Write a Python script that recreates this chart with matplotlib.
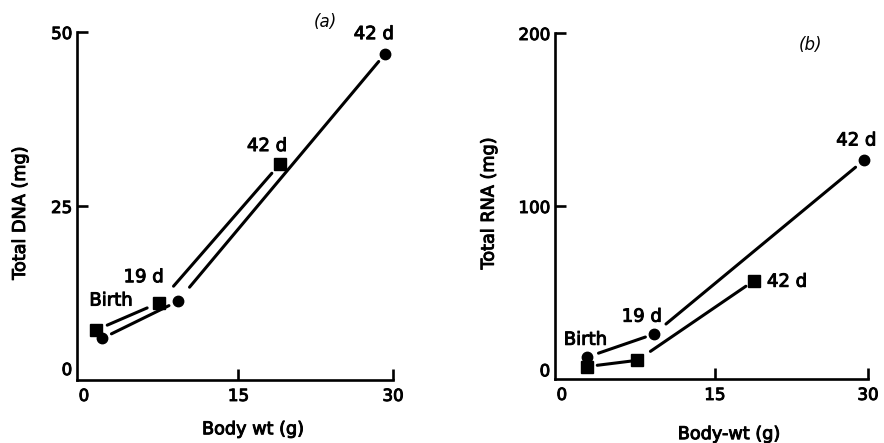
import matplotlib
matplotlib.use("Agg")
import matplotlib.pyplot as plt
import matplotlib.transforms as mtransforms
import matplotlib.patheffects as pe

# panel (a): total DNA vs body weight
dna_sq_x = [1.2, 7.3, 19.0]
dna_sq_y = [7.2, 11.1, 31.0]
dna_ci_x = [1.8, 9.1, 29.2]
dna_ci_y = [6.0, 11.3, 46.8]

# panel (b): total RNA vs body weight
rna_sq_x = [2.5, 7.4, 18.8]
rna_sq_y = [7.2, 10.8, 56.7]
rna_ci_x = [2.5, 9.0, 29.6]
rna_ci_y = [12.7, 25.9, 126.4]

x_ticks = [0, 15, 30]
dna_ticks = [0, 25, 50]
rna_ticks = [0, 100, 200]

plt.rcParams['font.family'] = ['DejaVu Sans']

fig = plt.figure(figsize=(8.84, 4.43), dpi=100)
ax1 = fig.add_axes([0.0871, 0.1422, 0.3575, 0.7856])
ax2 = fig.add_axes([0.6278, 0.1445, 0.3541, 0.7810])

LW = 2.2
# print looks heavier than plain DejaVu, thicken glyphs a bit
HEAVY = [pe.withStroke(linewidth=0.7, foreground='black')]


def join(ax, xs, ys, gaps):
    # segments drawn with small gaps next to the markers
    for i in range(len(xs) - 1):
        ga, gb = gaps[i]
        ax.annotate('', xy=(xs[i + 1], ys[i + 1]), xytext=(xs[i], ys[i]),
                    arrowprops=dict(arrowstyle='-', lw=LW, color='black',
                                    shrinkA=ga, shrinkB=gb))


def style(ax, ymax, yticks, zero_up):
    ax.set_xlim(-0.67, 30)
    ax.set_ylim(0, ymax)
    for s in ['top', 'right']:
        ax.spines[s].set_visible(False)
    for s in ['left', 'bottom']:
        ax.spines[s].set_linewidth(1.9)
    ax.set_xticks(x_ticks)
    ax.set_yticks(yticks)
    ax.tick_params(direction='in', length=8, width=1.9, labelsize=12)
    ax.tick_params(axis='x', pad=5)
    ax.tick_params(axis='y', pad=3.5)
    ax.xaxis.get_major_ticks()[0].tick1line.set_visible(False)
    ax.yaxis.get_major_ticks()[0].tick1line.set_visible(False)
    for t in ax.get_xticklabels() + ax.get_yticklabels():
        t.set_path_effects(HEAVY)
    lab = ax.get_yticklabels()[0]
    off = mtransforms.ScaledTranslation(0, zero_up / 72.0, fig.dpi_scale_trans)
    lab.set_transform(lab.get_transform() + off)


def tag(ax, txt, pt, dxy):
    ax.annotate(txt, pt, xytext=dxy, textcoords='offset points',
                ha='center', va='center', fontsize=13, path_effects=HEAVY)


# ---- panel (a)
join(ax1, dna_sq_x, dna_sq_y, [(8.6, 9.4), (15.8, 8.6)])
join(ax1, dna_ci_x, dna_ci_y, [(7.2, 7.0), (13.3, 6.8)])
ax1.plot(dna_sq_x, dna_sq_y, 's', color='black', ms=8, clip_on=False)
ax1.plot(dna_ci_x, dna_ci_y, 'o', color='black', ms=7.5, clip_on=False)
style(ax1, 50, dna_ticks, 8.6)

tag(ax1, 'Birth', (dna_sq_x[0], dna_sq_y[0]), (10.6, 21.1))
tag(ax1, '19 d', (dna_sq_x[1], dna_sq_y[1]), (-11.2, 18.4))
tag(ax1, '42 d', (dna_sq_x[2], dna_sq_y[2]), (-9.1, 13.1))
tag(ax1, '42 d', (dna_ci_x[2], dna_ci_y[2]), (-7.9, 14.5))

# ---- panel (b)
join(ax2, rna_sq_x, rna_sq_y, [(7.2, 2.9), (11.4, 6.8)])
join(ax2, rna_ci_x, rna_ci_y, [(8.5, 6.3), (11.5, 7.8)])
ax2.plot(rna_sq_x, rna_sq_y, 's', color='black', ms=8, clip_on=False)
ax2.plot(rna_ci_x, rna_ci_y, 'o', color='black', ms=7.5, clip_on=False)
style(ax2, 200, rna_ticks, 7.0)

tag(ax2, 'Birth', (rna_ci_x[0], rna_ci_y[0]), (-1.4, 12.4))
tag(ax2, '19 d', (rna_ci_x[1], rna_ci_y[1]), (-8.6, 12.6))
tag(ax2, '42 d', (rna_sq_x[2], rna_sq_y[2]), (24, -0.6))
tag(ax2, '42 d', (rna_ci_x[2], rna_ci_y[2]), (-5.5, 14.3))

# axis titles and panel letters
kw = dict(ha='center', va='center', fontsize=12.7, path_effects=HEAVY)
fig.text(0.0226, 0.519, 'Total DNA (mg)', rotation=90, **kw)
fig.text(0.2862, 0.031, 'Body wt (g)', **kw)
fig.text(0.5528, 0.541, 'Total RNA (mg)', rotation=90, **kw)
fig.text(0.8247, 0.020, 'Body-wt (g)', **kw)
fig.text(0.3676, 0.951, '(a)', style='italic', ha='center', va='center', fontsize=12)
fig.text(0.9166, 0.898, '(b)', style='italic', ha='center', va='center', fontsize=12)

fig.savefig('out.png', dpi=100)
